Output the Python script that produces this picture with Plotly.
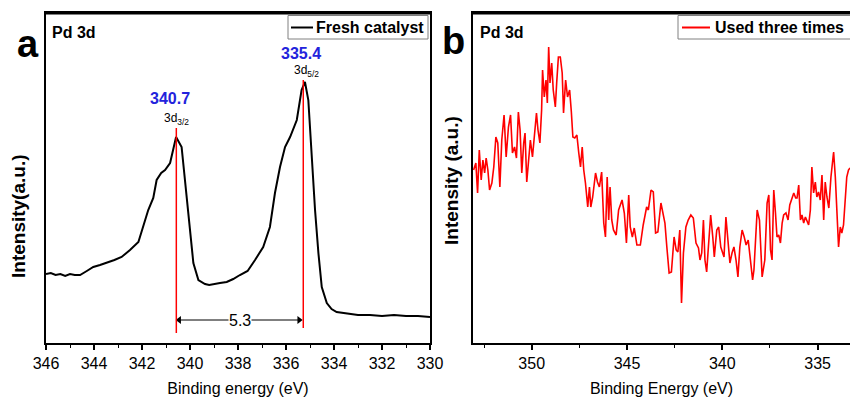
import plotly.graph_objects as go

# ---------------- data ----------------
# Panel a: fresh catalyst, Pd 3d
a_energy = [346.0, 345.8, 345.6, 345.4, 345.2, 345.0, 344.8, 344.58, 344.3, 344.03,
            343.75, 343.47, 343.15, 342.85, 342.5, 342.15, 341.95, 341.74, 341.53, 341.39,
            341.2, 341.04, 340.83, 340.58, 340.35, 340.14, 340.0, 339.86, 339.65, 339.375,
            339.2, 339.03, 338.75, 338.47, 338.2, 337.92, 337.6, 337.29, 336.95, 336.67,
            336.46, 336.25, 336.04, 335.83, 335.55, 335.35, 335.21, 335.07, 334.93, 334.79,
            334.65, 334.51, 334.3, 334.1, 333.89, 333.6, 333.33, 333.0, 332.5, 332.0,
            331.5, 331.0, 330.5, 330.0]
a_intensity = [69, 70, 68, 69, 67, 69, 68, 68, 72, 76,
               78, 80, 83, 86, 93, 101, 116, 133, 145, 163,
               170, 173, 180, 206, 196, 146, 110, 80, 63, 59,
               58, 59, 60, 61, 64, 68, 72, 83, 96, 116,
               150, 176, 196, 206, 223, 253, 261, 243, 183, 133,
               90, 56, 40, 34, 31, 30, 29, 28, 28, 27,
               28, 27, 27, 26]

# Panel b: used three times, Pd 3d
b_energy = [353.05, 352.93, 352.84, 352.75, 352.65, 352.56, 352.47, 352.39, 352.30, 352.21,
            352.09, 351.99, 351.88, 351.78, 351.67, 351.57, 351.45, 351.34, 351.22, 351.11,
            351.01, 350.90, 350.80, 350.70, 350.61, 350.52, 350.42, 350.35, 350.26, 350.17,
            350.07, 349.96, 349.86, 349.75, 349.67, 349.57, 349.48, 349.43, 349.34, 349.25,
            349.18, 349.11, 349.04, 348.95, 348.87, 348.76, 348.69, 348.60, 348.50, 348.40,
            348.33, 348.22, 348.12, 348.01, 347.92, 347.84, 347.74, 347.63, 347.53, 347.44,
            347.35, 347.27, 347.18, 347.06, 346.97, 346.90, 346.80, 346.65, 346.55, 346.45,
            346.33, 346.22, 346.13, 346.04, 345.96, 345.89, 345.80, 345.71, 345.57, 345.44,
            345.26, 345.14, 345.03, 344.91, 344.83, 344.72, 344.62, 344.48, 344.30, 344.15,
            343.97, 343.88, 343.74, 343.62, 343.50, 343.38, 343.22, 343.10, 343.01, 342.91,
            342.79, 342.67, 342.53, 342.42, 342.33, 342.23, 342.14, 342.04, 341.91, 341.79,
            341.65, 341.52, 341.38, 341.25, 341.17, 341.08, 340.99, 340.91, 340.82, 340.73,
            340.61, 340.50, 340.42, 340.29, 340.19, 340.08, 339.98, 339.91, 339.81, 339.70,
            339.60, 339.49, 339.39, 339.28, 339.18, 339.08, 338.96, 338.85, 338.75, 338.64,
            338.54, 338.41, 338.34, 338.17, 338.05, 337.91, 337.77, 337.65, 337.56, 337.47,
            337.39, 337.30, 337.21, 337.13, 337.04, 336.95, 336.86, 336.78, 336.66, 336.55,
            336.46, 336.37, 336.25, 336.15, 336.08, 335.99, 335.90, 335.82, 335.73, 335.64,
            335.56, 335.47, 335.38, 335.30, 335.21, 335.12, 335.04, 334.95, 334.86, 334.77,
            334.68, 334.60, 334.51, 334.41, 334.30, 334.23, 334.16, 334.07, 333.99, 333.90,
            333.81, 333.73, 333.64, 333.55, 333.47, 333.38, 333.30]
b_intensity = [173, 180, 150, 193, 163, 183, 170, 185, 173, 153,
               160, 176, 206, 200, 156, 203, 228, 186, 216, 228,
               190, 196, 185, 231, 213, 170, 200, 210, 161, 180,
               203, 186, 206, 230, 213, 200, 233, 273, 246, 263,
               240, 296, 260, 280, 253, 236, 260, 286, 286, 270,
               230, 263, 246, 253, 231, 206, 205, 208, 190, 176,
               196, 173, 160, 136, 156, 136, 146, 170, 161, 156,
               171, 120, 106, 166, 123, 156, 123, 113, 108, 133,
               143, 130, 100, 148, 116, 106, 115, 98, 98, 118,
               136, 133, 153, 151, 110, 111, 140, 126, 120, 96,
               70, 71, 106, 93, 91, 113, 40, 90, 116, 123,
               128, 125, 100, 95, 83, 90, 123, 83, 71, 96,
               128, 106, 86, 113, 116, 96, 90, 86, 126, 100,
               80, 90, 96, 83, 66, 96, 113, 106, 98, 103,
               83, 63, 73, 133, 123, 66, 83, 140, 148, 93,
               83, 153, 130, 106, 108, 100, 120, 128, 130, 123,
               138, 143, 150, 145, 145, 158, 123, 128, 120, 126,
               123, 118, 133, 176, 150, 161, 146, 151, 143, 168,
               123, 161, 146, 135, 166, 180, 191, 166, 136, 96,
               116, 110, 118, 150, 166, 173, 175]

series_names = ["Fresh catalyst", "Used three times"]
series_colors = ["black", "#ff0000"]

# peak markers / annotations for panel a
peak_positions = [340.57, 335.28]      # eV, red guide lines
peak_labels = ["340.7", "335.4"]
orbital_labels = ["3d<sub>3/2</sub>", "3d<sub>5/2</sub>"]
line_tops = [215, 263]
line_bottoms = [10, 15]
splitting_label = "5.3"
arrow_level = 23
arrow_ends = [340.45, 335.45]

a_ticks = [346, 344, 342, 340, 338, 336, 334, 332, 330]
b_ticks = [350, 345, 340, 335]

FONT = "Arial, Liberation Sans, sans-serif"
W, H = 850, 400
ML, MT, MB = 0, 13, 57
PH = H - MT - MB  # plot height in px


def px_x(p):
    return p / W


def px_y(p):
    return (H - MB - p) / PH


fig = go.Figure()
fig.add_trace(go.Scatter(x=a_energy, y=a_intensity, mode="lines",
                         line=dict(color=series_colors[0], width=2),
                         name=series_names[0], xaxis="x", yaxis="y", showlegend=False))
fig.add_trace(go.Scatter(x=b_energy, y=b_intensity, mode="lines",
                         line=dict(color=series_colors[1], width=1.6),
                         name=series_names[1], xaxis="x2", yaxis="y2", showlegend=False))
# double-headed splitting arrow
fig.add_trace(go.Scatter(x=arrow_ends, y=[arrow_level, arrow_level], mode="lines+markers",
                         line=dict(color="black", width=1),
                         marker=dict(symbol=["triangle-left", "triangle-right"], size=7,
                                     color="black"),
                         showlegend=False, hoverinfo="skip", xaxis="x", yaxis="y"))

axis_common = dict(showline=True, linewidth=2, linecolor="black", showgrid=False,
                   zeroline=False)

fig.update_layout(
    width=W, height=H, margin=dict(l=ML, r=0, t=MT, b=MB),
    paper_bgcolor="white", plot_bgcolor="white", showlegend=False,
    font=dict(family=FONT, color="black", size=16),
    xaxis=dict(domain=[px_x(46), px_x(430)], range=[346, 330], anchor="y",
               tickmode="array", tickvals=a_ticks, ticktext=[str(t) for t in a_ticks],
               ticks="outside", ticklen=5, tickwidth=1.5, tickcolor="black",
               minor=dict(dtick=1, tick0=330, ticks="outside", ticklen=3, tickwidth=1.2,
                          tickcolor="black"),
               mirror=True, tickfont=dict(size=16), automargin=False,
               title=dict(text="Binding energy (eV)", font=dict(size=16), standoff=12),
               **axis_common),
    yaxis=dict(domain=[0, 1], range=[0, 330], anchor="x", showticklabels=False,
               mirror=True, **axis_common),
    xaxis2=dict(domain=[px_x(473), 1], range=[353.08, 333.3], anchor="y2",
                tickmode="array", tickvals=b_ticks, ticktext=[str(t) for t in b_ticks],
                ticks="outside", ticklen=5, tickwidth=1.5, tickcolor="black",
                minor=dict(dtick=2.5, tick0=335, ticks="outside", ticklen=3, tickwidth=1.2,
                           tickcolor="black"),
                mirror=True, tickfont=dict(size=16), automargin=False,
                title=dict(text="Binding Energy (eV)", font=dict(size=16), standoff=12),
                **axis_common),
    yaxis2=dict(domain=[0, 1], range=[0, 330], anchor="x2", showticklabels=False,
                mirror=False, **axis_common),
)

# top frame lines of both panels
for x0, x1 in ((px_x(45), px_x(431)), (px_x(472), 1.0)):
    fig.add_shape(type="line", xref="paper", yref="paper", x0=x0, x1=x1,
                  y0=px_y(13.5), y1=px_y(13.5), line=dict(color="black", width=2))

# red guide lines at the two peaks
for xp, top, bot in zip(peak_positions, line_tops, line_bottoms):
    fig.add_shape(type="line", xref="x", yref="y", x0=xp, x1=xp, y0=bot, y1=top,
                  line=dict(color="#ff0000", width=1.5))

# legend boxes (drawn: box, sample line, label)
legend_boxes = [(288, 428), (678, 860)]
legend_lines = [(291, 313), (682, 710)]
legend_text_x = [314, 713]
ann = []
for (bx0, bx1), (lx0, lx1), tx, nm, col in zip(legend_boxes, legend_lines, legend_text_x,
                                              series_names, series_colors):
    fig.add_shape(type="rect", xref="paper", yref="paper", x0=px_x(bx0), x1=px_x(bx1),
                  y0=px_y(39), y1=px_y(15.5), fillcolor="white",
                  line=dict(color="#808080", width=1))
    fig.add_shape(type="line", xref="paper", yref="paper", x0=px_x(lx0), x1=px_x(lx1),
                  y0=px_y(27.5), y1=px_y(27.5), line=dict(color=col, width=2))
    ann.append(dict(x=px_x(tx), y=px_y(27.5), xref="paper", yref="paper",
                    text="<b>" + nm + "</b>", showarrow=False, xanchor="left",
                    yanchor="middle", font=dict(size=16, color="black")))

# peak value labels (blue) and orbital labels
value_y = [245, 290]
orbital_y = [224, 272]
value_shift = [-6, -2]
orbital_shift = [0, 3]
for xp, lab, orb, vy, oy, vs, os_ in zip(peak_positions, peak_labels, orbital_labels,
                                        value_y, orbital_y, value_shift, orbital_shift):
    ann.append(dict(x=xp, y=vy, xref="x", yref="y", text="<b>" + lab + "</b>",
                    showarrow=False, xshift=vs, font=dict(size=16, color="#2323dc")))
    ann.append(dict(x=xp, y=oy, xref="x", yref="y", text=orb, showarrow=False,
                    xshift=os_, font=dict(size=12, color="black")))

mid = (peak_positions[0] + peak_positions[1]) / 2
ann.append(dict(x=mid, y=arrow_level, xref="x", yref="y", text=splitting_label,
                showarrow=False, bgcolor="white", borderpad=0,
                font=dict(size=16, color="black")))

# panel captions
ann.append(dict(x=px_x(50), y=px_y(32), xref="paper", yref="paper", text="<b>Pd 3d</b>",
                showarrow=False, xanchor="left", yanchor="middle", font=dict(size=16)))
ann.append(dict(x=px_x(478), y=px_y(32), xref="paper", yref="paper", text="<b>Pd 3d</b>",
                showarrow=False, xanchor="left", yanchor="middle", font=dict(size=16)))
ann.append(dict(x=px_x(28), y=px_y(44), xref="paper", yref="paper", text="<b>a</b>",
                showarrow=False, xanchor="center", yanchor="middle", font=dict(size=38)))
ann.append(dict(x=px_x(453), y=px_y(41), xref="paper", yref="paper", text="<b>b</b>",
                showarrow=False, xanchor="center", yanchor="middle", font=dict(size=38)))

# y-axis titles
ann.append(dict(x=px_x(18), y=px_y(216), xref="paper", yref="paper",
                text="<b>Intensity(a.u.)</b>", textangle=-90, showarrow=False,
                xanchor="center", yanchor="middle", font=dict(size=19)))
ann.append(dict(x=px_x(452), y=px_y(181), xref="paper", yref="paper",
                text="<b>Intensity (a.u.)</b>", textangle=-90, showarrow=False,
                xanchor="center", yanchor="middle", font=dict(size=19)))

fig.update_layout(annotations=ann)
fig.write_html("out.html", config={"displayModeBar": False},
               post_script="document.body.style.margin='0';document.body.style.overflow='hidden';")
